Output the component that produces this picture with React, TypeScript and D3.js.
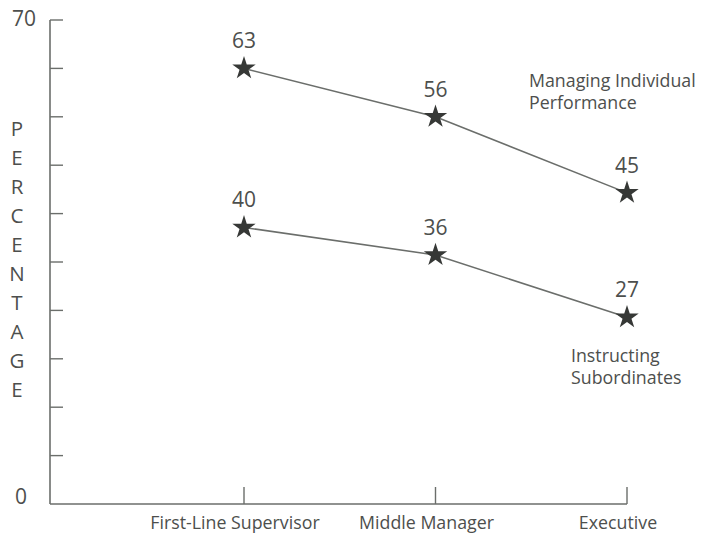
import React from "react";
import * as d3 from "d3";

// Management levels along the horizontal axis
const levels = ["First-Line Supervisor", "Middle Manager", "Executive"];

// Percentage of managers reporting each activity, by level
const managingPerformance = [63, 56, 45];
const instructingSubordinates = [40, 36, 27];

// Series captions, split over two lines
const managingCaption = ["Managing Individual", "Performance"];
const instructingCaption = ["Instructing", "Subordinates"];

// Vertical axis
const yTickValues = [0, 7, 14, 21, 28, 35, 42, 49, 56, 63, 70];
const yEndLabels = [0, 70];
const axisTitle = "PERCENTAGE";

const W = 708;
const H = 537;
const FONT = "'Open Sans', Lato, sans-serif";
const TEXT = "#4d4f4d";
const LINE = "#6b6e6b";
const MARK = "#363836";

export default function App() {
  const x0 = 50;
  const y = d3.scaleLinear().domain([0, 70]).range([504, 20]);
  const x = d3.scalePoint<string>().domain(levels).range([244, 627]).padding(0);

  const line = d3
    .line<number>()
    .x((_, i) => x(levels[i]) as number)
    .y((v) => y(v));

  const star = d3.symbol().type(d3.symbolStar).size(170)() as string;

  const series = [
    { values: managingPerformance },
    { values: instructingSubordinates },
  ];

  return (
    <div style={{ position: "absolute", left: 0, top: 0, width: W, height: H, background: "#fff" }}>
      <svg width={W} height={H} style={{ display: "block" }} fontFamily={FONT}>
        {/* y axis */}
        <line x1={x0} x2={x0} y1={y(70)} y2={y(0)} stroke={LINE} strokeWidth={1.6} />
        {yTickValues
          .filter((v) => v > 0)
          .map((v) => (
            <line key={v} x1={x0} x2={x0 + 13} y1={y(v)} y2={y(v)} stroke={LINE} strokeWidth={1.4} />
          ))}
        {yEndLabels.map((v) => (
          <text
            key={v}
            x={v === 0 ? 21 : 36}
            y={v === 0 ? y(v) + 0 : y(v) + 6}
            textAnchor={v === 0 ? "middle" : "end"}
            fontSize={21}
            fill={TEXT}
          >
            {v}
          </text>
        ))}
        {axisTitle.split("").map((ch, i) => (
          <text key={i} x={17} y={136 + i * 29} textAnchor="middle" fontSize={20.5} fill={TEXT}>
            {ch}
          </text>
        ))}

        {/* x axis */}
        <line x1={x0} x2={x(levels[2]) as number} y1={y(0)} y2={y(0)} stroke={LINE} strokeWidth={1.6} />
        {levels.map((c) => (
          <g key={c}>
            <line x1={x(c) as number} x2={x(c) as number} y1={y(0)} y2={y(0) - 17} stroke={LINE} strokeWidth={1.4} />
            <text x={(x(c) as number) - 9} y={529} textAnchor="middle" fontSize={17.8} fill={TEXT}>
              {c}
            </text>
          </g>
        ))}

        {/* series lines, stars and value labels */}
        {series.map((s, si) => (
          <g key={si}>
            <path d={line(s.values) as string} fill="none" stroke={LINE} strokeWidth={1.5} />
            {s.values.map((v, i) => (
              <g key={i}>
                <path d={star} transform={`translate(${x(levels[i])},${y(v)})`} fill={MARK} />
                <text
                  x={x(levels[i]) as number}
                  y={y(v) - 20}
                  textAnchor="middle"
                  fontSize={21}
                  fill={TEXT}
                >
                  {v}
                </text>
              </g>
            ))}
          </g>
        ))}

        {/* series captions */}
        {managingCaption.map((t, i) => (
          <text key={t} x={529} y={87 + i * 22} fontSize={17.8} fill={TEXT}>
            {t}
          </text>
        ))}
        {instructingCaption.map((t, i) => (
          <text key={t} x={571} y={362 + i * 22} fontSize={17.8} fill={TEXT}>
            {t}
          </text>
        ))}
      </svg>
    </div>
  );
}
